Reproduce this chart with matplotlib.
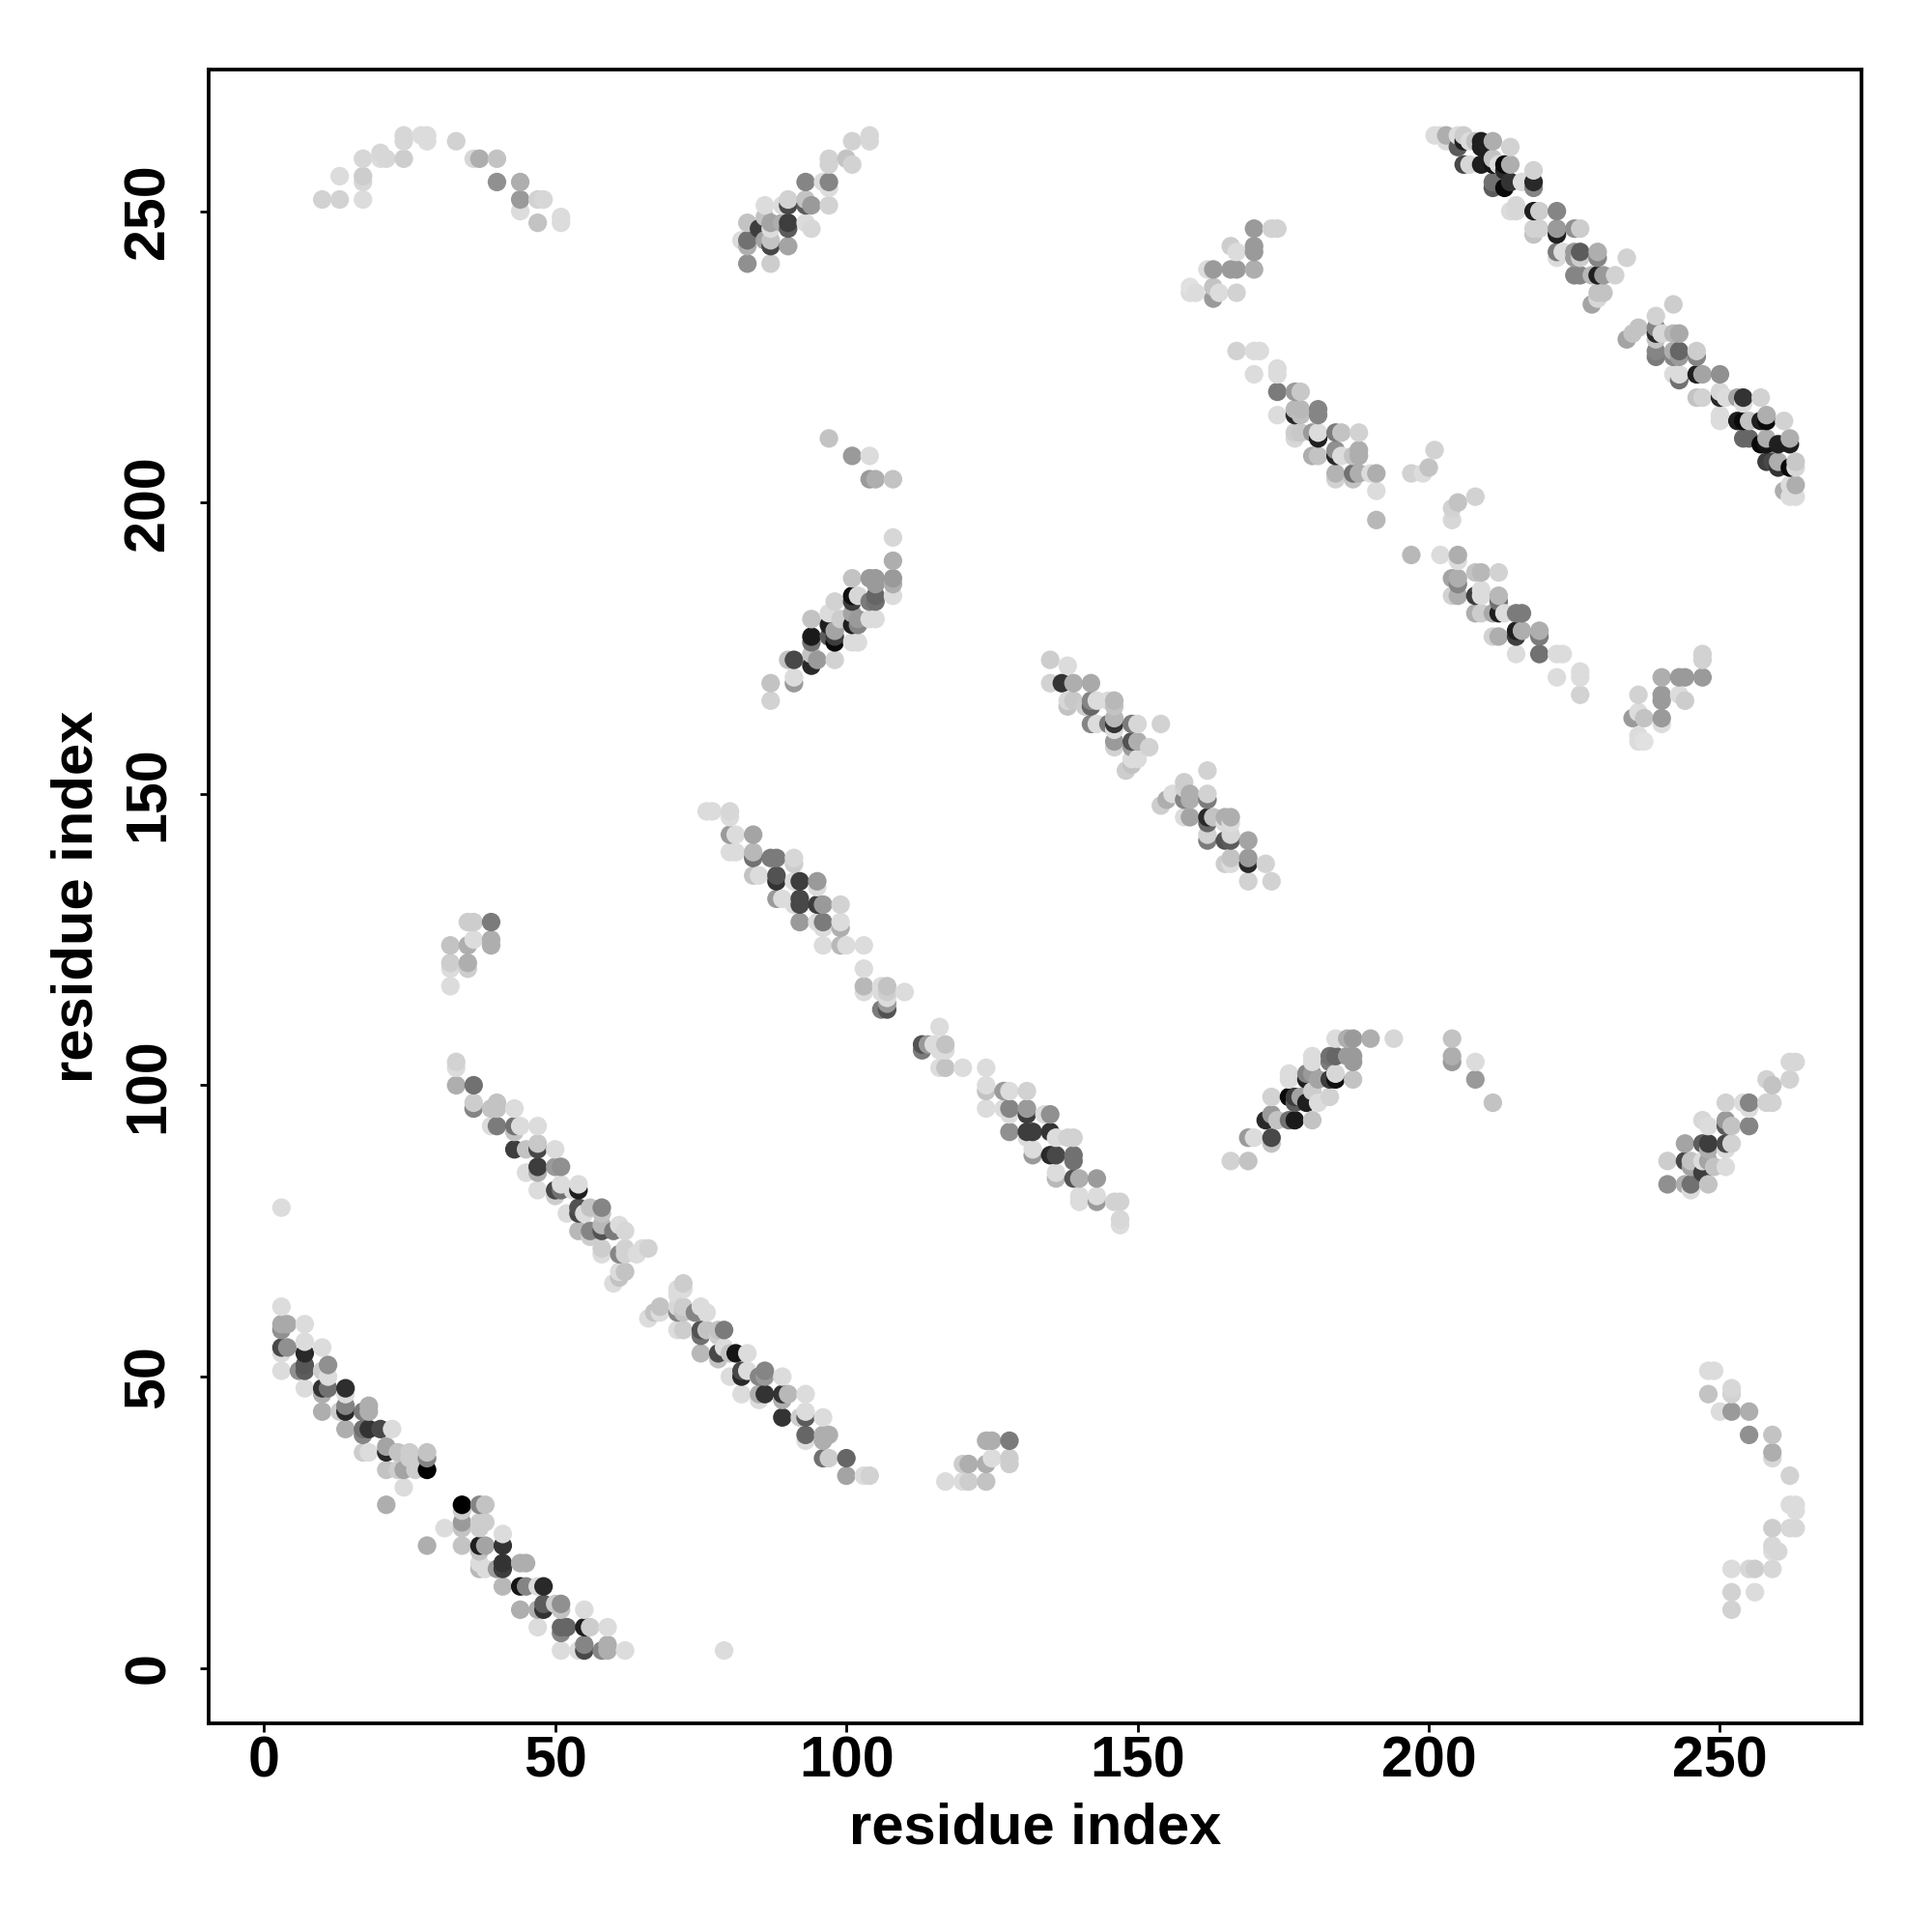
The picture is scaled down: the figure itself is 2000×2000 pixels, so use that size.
import numpy as np
import matplotlib
matplotlib.use("Agg")
import matplotlib.pyplot as plt

# each contact: (residue x, residue y, grey level)
band_1 = [(3,62,215),(3,59,165),(4,59,165),(3,58,140),(7,59,215),(3,55,70),(4,55,140),(7,56,215),(7,54,40),(3,54,215),(3,51,215),
(10,55,215),(6,51,140),(7,51,90),(7,52,85),(11,52,140),(10,51,200),(11,50,215),(7,48,215),(10,48,50),(11,48,110),(10,47,170),(14,48,45),
(10,44,170),(14,47,215),(14,45,130),(14,44,40),(13,44,200),(17,44,120),(18,44,170),(18,45,170),(14,41,170),(17,41,110),(17,40,130),(18,41,50),
(20,41,70),(22,41,215),(17,37,200),(18,37,215),(21,37,40),(21,38,160),(23,37,190),(21,34,190),(23,34,200),(24,34,160),(26,34,200),(28,34,0),
(25,37,200),(25,36,200),(28,37,190),(28,36,130),(24,31,215),(21,28,170),(34,28,0),(37,28,130),(38,28,190),(34,27,200),(34,25,150),(34,24,190),
(31,24,215),(37,25,200),(38,25,200),(37,24,200),(28,21,170),(34,21,190),(37,21,30),(38,21,160),(41,23,215),(41,21,50),(37,20,190),(38,17,215),
(37,18,215),(37,17,180),(40,17,150),(41,17,60),(41,18,50),(44,18,170),(45,18,170),(41,14,180),(44,14,20),(45,14,130),(47,14,215),(48,14,40),
(44,10,170),(47,10,170),(48,11,90),(48,10,50),(50,11,200),(51,11,140),(51,10,190),(47,7,215),(51,7,100),(52,7,100),(51,6,130),(55,10,215),
(55,7,30),(56,7,200),(59,7,215),(51,3,215),(54,3,215),(55,3,70),(55,4,130),(58,3,130),(59,3,170),(59,4,170),(62,3,215)]

band_2 = [(33,104,205),(33,103,215),(33,100,170),(36,100,110),(36,97,200),(36,96,130),(39,96,190),(40,97,190),(40,96,190),(43,96,215),(39,93,215),
(40,93,120),(43,93,110),(43,92,190),(44,93,215),(47,93,215),(43,89,60),(45,89,190),(47,90,195),(47,89,70),(50,89,215),(45,85,215),(47,86,60),
(47,85,170),(50,86,150),(51,86,140),(47,82,215),(50,82,70),(50,81,200),(51,83,215),(51,82,110),(54,83,215),(54,82,30),(53,82,215),(54,78,70),
(54,79,80),(55,78,215),(52,78,215),(56,79,190),(58,79,130),(58,78,190),(54,75,180),(56,75,130),(58,76,180),(58,75,80),(56,74,200),(61,76,215),
(62,75,210),(60,75,120),(58,72,200),(58,71,215),(61,71,130),(62,72,205),(62,71,205),(64,71,215),(66,72,205),(65,72,215),(61,68,215),(61,67,190),
(62,68,190),(60,66,215),(72,66,200),(71,65,215),(72,65,215),(71,64,215),(68,62,190),(67,61,190),(66,60,215),(68,61,215),(71,62,210),(72,62,200),
(71,61,130),(72,61,190),(75,62,215),(76,61,215),(74,61,130),(71,58,215),(72,58,200),(75,58,80),(75,57,110),(76,58,190),(78,58,190),(79,58,120),
(78,57,200),(75,54,180),(78,54,70),(78,53,190),(79,55,215),(80,54,190),(81,54,20),(83,54,215),(82,51,70),(82,50,40),(83,51,215),(80,50,215),
(85,50,130),(86,51,130),(86,50,150),(89,50,215),(82,47,215),(85,47,170),(85,46,215),(86,47,50),(89,47,50),(89,46,170),(90,47,180),(93,47,215),
(89,43,50),(92,43,200),(93,44,215),(93,43,90),(96,43,215),(93,40,100),(93,39,215),(96,40,170),(97,40,170),(96,39,170),(96,36,110),(97,36,200),
(100,36,100),(100,33,160),(103,33,215),(104,33,205)]

band_3 = [(76,147,215),(77,147,215),(80,147,210),(80,146,215),(80,143,150),(81,143,215),(84,143,160),(80,140,215),(81,140,215),(84,140,180),
(84,139,110),(87,139,120),(88,139,120),(91,139,210),(91,138,200),(84,136,190),(85,136,215),(88,136,80),(88,135,50),(91,135,215),(92,135,60),
(95,135,150),(95,134,215),(88,132,150),(89,132,215),(91,131,215),(92,132,70),(92,131,70),(95,131,60),(96,131,150),(99,131,205),(92,128,150),
(95,128,215),(96,128,120),(96,127,215),(99,128,215),(99,127,170),(96,124,215),(99,124,180),(100,124,215),(103,124,215),(103,120,215),(103,117,180),
(103,116,215),(106,117,215),(107,117,190),(106,116,215),(107,116,200),(110,116,215),(107,115,215),(106,113,120),(107,114,150),(107,113,80),
(113,107,80),(113,106,120),(114,107,150),(115,107,215),(116,110,215),(117,107,190),(117,106,215),(116,106,215),(116,103,215),(117,103,190),
(120,103,215),(124,103,215),(124,100,215),(124,99,190),(127,99,150),(128,99,215),(131,99,205),(124,96,215),(127,96,215),(128,96,130),(128,95,215),
(131,96,150),(131,95,60),(134,95,215),(135,95,140),(128,92,140),(131,92,60),(132,92,60),(131,91,215),(135,92,50),(136,91,215),(138,91,205),
(139,91,205),(132,89,215),(132,88,150),(135,88,40),(136,88,70),(139,88,110),(139,87,110),(136,85,215),(136,84,180),(139,84,80),(140,84,170),
(143,84,150),(140,81,215),(140,80,215),(143,81,215),(143,80,150),(146,80,205),(147,80,205),(147,77,210),(147,76,215)]

band_4 = [(135,173,200),(138,172,215),(135,169,205),(137,169,50),(139,169,170),(142,169,165),(138,166,210),(138,165,190),(139,166,195),(142,166,130),
(142,165,100),(143,166,215),(146,166,180),(145,166,215),(146,165,190),(141,165,200),(142,162,130),(143,162,215),(145,162,120),(146,162,50),
(146,163,180),(146,161,215),(149,162,120),(150,162,210),(154,162,205),(146,159,150),(146,158,205),(149,159,80),(150,159,170),(149,158,150),
(152,158,205),(150,156,215),(149,156,215),(149,155,190),(148,154,200),(162,154,205),(158,152,200),(158,151,205),(154,148,200),(155,149,170),
(156,150,215),(158,149,130),(159,150,170),(159,149,170),(162,150,205),(162,149,120),(158,146,215),(159,146,160),(162,146,40),(162,145,100),
(163,146,190),(165,146,170),(166,146,170),(165,145,215),(166,145,215),(162,143,205),(162,142,120),(165,142,80),(166,143,210),(166,142,90),
(169,142,160),(165,138,200),(166,139,190),(166,138,215),(169,139,150),(169,138,40),(172,138,205),(169,135,205),(173,135,205)]

band_5 = [(167,226,205),(170,226,215),(171,226,215),(170,222,215),(174,223,215),(174,222,215),(174,219,120),(177,219,150),(178,219,195),(174,215,215),
(177,216,180),(178,216,180),(177,215,40),(178,215,185),(181,216,130),(181,215,130),(177,212,200),(177,211,210),(178,212,195),(180,212,150),
(181,212,215),(181,211,30),(184,212,120),(185,212,190),(188,212,205),(180,208,170),(181,208,190),(184,209,140),(184,208,40),(185,208,215),
(188,209,170),(187,208,190),(188,208,170),(184,205,175),(184,204,205),(187,205,110),(187,204,190),(188,205,170),(190,205,215),(191,205,170),
(191,202,215),(191,197,180),(197,205,205),(199,205,215),(200,206,190),(201,209,205),(204,197,210),(204,199,205),(205,200,190),(208,201,205),
(197,191,180),(202,191,215),(205,191,170),(205,190,215),(204,187,160),(205,187,170),(205,186,130),(208,188,190),(209,188,180),(212,188,205),
(204,184,205),(205,184,170),(208,184,60),(209,185,215),(209,184,215),(212,184,180),(212,183,110),(208,181,170),(209,181,200),(211,181,165),
(212,181,30),(213,181,215),(215,181,120),(216,181,120),(211,177,205),(212,177,170),(215,178,30),(215,177,60),(216,178,170),(219,178,170),
(219,177,120),(215,174,215),(219,174,110),(222,174,215),(223,174,215),(222,170,215),(226,171,215),(226,170,215),(226,167,205)]

band_6 = [(201,263,215),(202,263,215),(203,263,170),(203,262,215),(205,263,215),(206,263,200),(205,261,90),(206,262,30),(207,262,215),(209,262,30),
(209,261,30),(211,262,170),(208,262,190),(214,261,205),(206,258,70),(207,258,210),(209,258,30),(211,259,190),(211,258,20),(212,258,215),(213,258,10),
(214,258,170),(213,257,40),(218,257,205),(211,255,110),(211,254,90),(213,254,10),(214,255,50),(216,255,215),(218,255,40),(218,254,130),(214,250,215),
(215,251,210),(215,250,210),(218,250,30),(219,250,200),(222,250,130),(218,247,205),(219,247,205),(218,246,190),(222,247,150),(222,246,30),
(225,247,140),(226,247,200),(222,243,120),(223,243,215),(222,242,215),(225,243,150),(225,242,150),(226,243,90),(226,242,200),(229,243,170),
(229,242,130),(234,242,205),(225,239,130),(226,239,130),(228,239,180),(229,239,30),(230,239,150),(232,239,205),(230,236,190),(229,236,190),
(229,235,210),(228,234,160),(242,234,200),(239,232,205),(236,230,190),(235,229,190),(234,228,160),(239,230,130),(239,229,40),(240,229,210),
(239,228,190),(242,229,180),(243,229,165),(239,226,130),(239,225,120),(242,226,170),(242,225,130),(243,226,100),(243,225,150),(246,226,200),
(246,225,130),(242,222,215),(243,222,215),(243,221,110),(246,222,30),(247,222,160),(250,222,140),(246,218,190),(247,218,205),(250,219,210),
(250,218,40),(251,218,215),(253,218,160),(254,218,50),(254,217,215),(257,218,205),(250,215,215),(250,214,215),(253,214,30),(254,214,10),
(255,214,190),(257,214,30),(258,215,170),(258,214,10),(261,214,205),(254,211,100),(255,211,100),(257,210,10),(258,211,170),(258,210,20),(260,210,30),
(262,211,170),(262,210,30),(258,207,60),(259,207,70),(260,206,50),(262,206,10),(263,207,195),(263,206,210),(260,207,170),(262,203,215),(263,203,170),
(261,202,170),(262,201,215),(263,201,215)]

# off-diagonal clusters, drawn on both sides of the diagonal
cluster_a = [(248,51,215),(249,51,215),(248,47,190),(252,48,210),(252,47,205),(250,44,215),(252,44,150),(255,44,170),(255,40,140),(259,40,190),
(259,37,170),(259,36,210),(262,33,205),(262,28,215),(263,28,215),(263,27,215),(259,24,200),(262,24,210),(263,24,210),(259,21,210),(259,20,215),
(260,20,210),(252,17,215),(255,17,210),(256,17,200),(259,17,210),(252,13,205),(256,13,215),(252,10,205)]
cluster_b = [(117,32,215),(120,32,215),(121,32,200),(124,32,190),(120,35,200),(121,35,170),(124,35,170),(125,36,215),(128,36,200),(128,35,200),
(124,39,170),(125,39,170),(128,39,120)]
cluster_c = [(79,3,215)]
cluster_d = [(236,167,205),(236,164,215),(235,163,150),(237,163,190),(240,170,170),(240,167,150),(240,166,150),(240,163,150),(240,162,215),
(243,170,150),(244,170,150),(243,167,215),(244,166,200),(247,170,150),(247,174,205),(247,173,205),(236,160,215),(236,159,215),(237,159,220)]
cluster_e = [(204,108,190),(204,105,170),(204,104,150),(208,104,215),(208,101,150),(211,97,190)]
cluster_f = [(166,87,205),(169,87,190),(169,91,150),(170,91,215),(173,91,70),(173,90,190),(173,98,205),(173,95,150),(172,94,40),(174,94,190),
(176,98,10),(177,98,60),(177,97,90),(178,98,160),(176,94,110),(177,94,25),(180,94,190),(176,102,215),(176,101,215),(180,105,215),(180,104,215),
(179,101,30),(180,102,150),(181,101,160),(179,102,130),(183,98,205),(181,97,215),(179,97,30),(180,99,200),(183,105,110),(184,105,100),(183,104,120),
(183,101,60),(184,101,15),(184,102,210),(187,101,190),(184,108,215),(186,108,170),(187,108,150),(186,105,150),(187,105,150),(187,104,150),
(190,108,170),(194,108,210)]
cluster_g = [(241,83,140),(244,83,170),(245,83,110),(245,82,215),(248,83,190),(241,87,200),(244,87,70),(245,87,190),(245,86,160),(247,87,215),
(247,85,60),(248,87,160),(249,86,190),(251,86,215),(244,90,160),(247,90,90),(248,90,60),(248,89,170),(251,90,70),(252,90,205),(251,89,215),
(247,94,210),(248,93,215),(251,97,205),(251,94,150),(251,93,90),(252,93,190),(255,93,130),(254,97,215),(255,97,130),(255,96,215),(258,97,205),
(259,97,205),(258,101,205),(259,100,190),(262,101,205),(262,104,210),(263,104,210)]

ticks = [0, 50, 100, 150, 200, 250]
x_title = "residue index"
y_title = "residue index"

bands = band_1 + band_2 + band_3 + band_4 + band_5 + band_6
clusters = cluster_a + cluster_b + cluster_c + cluster_d + cluster_e + cluster_f + cluster_g
rows = bands + clusters + [(b, a, g) for a, b, g in clusters]
rows = np.array(sorted(rows, key=lambda r: (r[0], r[1])), dtype=float)

plt.rcParams['font.family'] = ['Liberation Sans', 'DejaVu Sans']
plt.rcParams['font.weight'] = 'bold'

fig = plt.figure(figsize=(10, 10), dpi=200, facecolor='white')
L, R, T, B = 216, 1927, 72, 1784
ax = fig.add_axes([L/2000, 1 - B/2000, (R-L)/2000, (B-T)/2000])
grey = np.clip(rows[:, 2:3] * 1.025 / 255, 0, 1)
ax.scatter(rows[:, 0], rows[:, 1], s=48, c=np.repeat(grey, 3, axis=1), linewidths=0, clip_on=True)
ax.set_xlim(-9.5, 274.3)
ax.set_ylim(-9.5, 274.3)
ax.set_xticks(ticks)
ax.set_yticks(ticks)
ax.tick_params(axis='both', length=3.3, width=1.0, labelsize=21.3, pad=1.2)
ax.tick_params(axis='y', pad=9)
for lab in ax.get_yticklabels():
    lab.set_rotation(90)
    lab.set_va('center')
    lab.set_fontweight('bold')
for lab in ax.get_xticklabels():
    lab.set_fontweight('bold')
for s in ax.spines.values():
    s.set_linewidth(1.35)
fig.text((L+R)/2/2000, 1-1893/2000, x_title, ha='center', va='center', fontsize=21.5, fontweight='bold')
fig.text(80/2000, 1-(T+B)/2/2000, y_title, ha='center', va='center', rotation=90, fontsize=21.5, fontweight='bold')
fig.savefig('out.png', dpi=200, facecolor='white')
